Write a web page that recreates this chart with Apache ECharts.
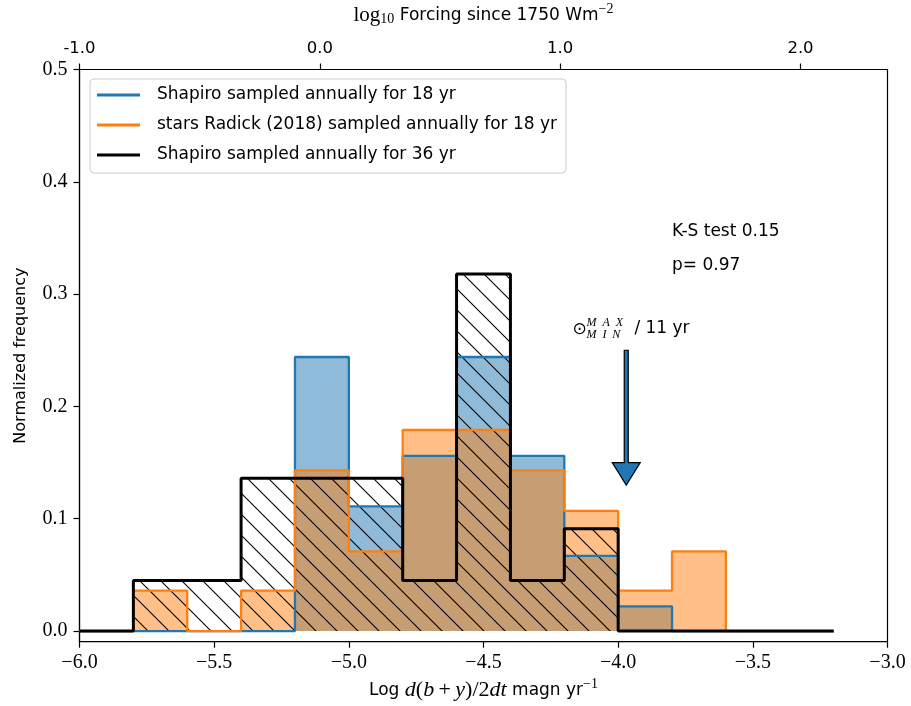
<!DOCTYPE html>
<html>
<head>
<meta charset="utf-8">
<script src="https://cdn.jsdelivr.net/npm/echarts@6/dist/echarts.min.js"></script>
<style>
html,body{margin:0;padding:0;background:#fff;}
#c{width:911px;height:706px;}
</style>
</head>
<body>
<div id="c"></div>
<script>
// ---- data ----
const binEdges = [-6.0,-5.8,-5.6,-5.4,-5.2,-5.0,-4.8,-4.6,-4.4,-4.2,-4.0,-3.8,-3.6,-3.4,-3.2];
const shapiro18 = [0, 0, 0, 0, 0.244, 0.111, 0.156, 0.244, 0.156, 0.067, 0.022, 0, 0, 0];
const radick18  = [0, 0.036, 0, 0.036, 0.143, 0.071, 0.179, 0.179, 0.143, 0.107, 0.036, 0.071, 0, 0];
const shapiro36 = [0, 0.045, 0.045, 0.136, 0.136, 0.136, 0.045, 0.318, 0.045, 0.091, 0, 0, 0, 0];
const seriesNames = [
  'Shapiro sampled annually for 18 yr',
  'stars Radick (2018) sampled annually for 18 yr',
  'Shapiro sampled annually for 36 yr'
];
const xTicks = [-6.0,-5.5,-5.0,-4.5,-4.0,-3.5,-3.0];
const yTicks = [0.0,0.1,0.2,0.3,0.4,0.5];
const topTicks = [-1.0,0.0,1.0,2.0];
const ksText = 'K-S test 0.15';
const pText = 'p= 0.97';
const ksPos = [-3.8, 0.35];
const pPos = [-3.8, 0.32];
const arrowStart = [-3.97, 0.25];
const arrowEnd = [-3.97, 0.13];
const arrowHeadLen = 0.02;
const sunLabelPos = [-4.17, 0.2636];

// ---- helpers ----
function stepData(vals){
  const d = vals.map((v,i)=>[binEdges[i], v]);
  d.push([binEdges[binEdges.length-1], vals[vals.length-1]]);
  return d;
}
function makeHatch(){
  const s = 21;
  const cv = document.createElement('canvas');
  cv.width = s; cv.height = s;
  const ctx = cv.getContext('2d');
  ctx.strokeStyle = '#000';
  ctx.lineWidth = 1.1;
  ctx.beginPath();
  for (const k of [-s, 0, s]) {
    ctx.moveTo(k - 1, -1);
    ctx.lineTo(k + s + 1, s + 1);
  }
  ctx.stroke();
  return cv;
}
const SANS = '"DejaVu Sans", sans-serif';
const SERIF = '"Liberation Serif", "DejaVu Serif", serif';
const FS = 17;
const fmtMinus = v => (v < 0 ? '\u2212' : '') + Math.abs(v).toFixed(1);

const chart = echarts.init(document.getElementById('c'), null, {renderer:'canvas'});
const hatch = makeHatch();

const option = {
  animation: false,
  backgroundColor: '#fff',
  grid: {left: 79.5, right: 23.5, top: 69.5, bottom: 64.3, containLabel: false, outerBoundsMode: 'none',
         show: true, borderColor: '#000', borderWidth: 1.2, backgroundColor: 'transparent'},
  legend: {
    orient: 'vertical', left: 90, top: 79,
    itemWidth: 43, itemHeight: 3, itemGap: 10,
    padding: [6, 9, 8, 7],
    backgroundColor: 'rgba(255,255,255,0.8)',
    borderColor: '#cccccc', borderWidth: 1, borderRadius: 4,
    textStyle: {fontFamily: SANS, fontSize: FS, color: '#000', lineHeight: 20, padding: [0,0,0,12]},
    selectedMode: false,
    data: [
      {name: seriesNames[0], icon: 'rect', itemStyle: {color: '#1f77b4'}},
      {name: seriesNames[1], icon: 'rect', itemStyle: {color: '#ff7f0e'}},
      {name: seriesNames[2], icon: 'rect', itemStyle: {color: '#000000'}}
    ]
  },
  xAxis: [
    {
      type: 'value', position: 'bottom', min: -6, max: -3,
      axisLine: {show: true, onZero: false, lineStyle: {color: '#000', width: 1.2}},
      axisTick: {show: true, length: 6, lineStyle: {color: '#000', width: 1.2}, customValues: xTicks},
      axisLabel: {customValues: xTicks, formatter: fmtMinus, fontFamily: SERIF, fontSize: 20, color: '#000', margin: 11},
      splitLine: {show: false},
      name: '{s|Log }{i|d}{r|(}{i|b}{r|\u2009+\u2009}{i|y}{r|)/2}{i|dt}{s| magn yr}{sup|\u22121}',
      nameLocation: 'middle', nameGap: 35,
      nameTextStyle: {
        rich: {
          s: {fontFamily: SANS, fontSize: FS, color: '#000'},
          i: {fontFamily: SERIF, fontStyle: 'italic', fontSize: 22, color: '#000'},
          r: {fontFamily: SERIF, fontSize: 22, color: '#000'},
          sup: {fontFamily: SERIF, fontSize: 14, color: '#000', padding: [0,0,12,0]}
        }
      }
    },
    {
      type: 'value', position: 'top', min: -1, max: 2.362,
      axisLine: {show: true, onZero: false, lineStyle: {color: '#000', width: 1.2}},
      axisTick: {show: true, length: 6, lineStyle: {color: '#000', width: 1.2}, customValues: topTicks},
      axisLabel: {customValues: topTicks, formatter: v => v.toFixed(1), fontFamily: SANS, fontSize: 16.5, color: '#000', margin: 12},
      splitLine: {show: false},
      name: '{r|log}{sub|10}{s| Forcing since 1750 Wm}{sup|\u22122}',
      nameLocation: 'middle', nameGap: 41,
      nameTextStyle: {
        rich: {
          s: {fontFamily: SANS, fontSize: FS, color: '#000'},
          r: {fontFamily: SERIF, fontSize: 21, color: '#000'},
          sub: {fontFamily: SERIF, fontSize: 14, color: '#000', padding: [8,0,0,0]},
          sup: {fontFamily: SERIF, fontSize: 14, color: '#000', padding: [0,0,12,0]}
        }
      }
    }
  ],
  yAxis: [
    {
      type: 'value', min: -0.0095, max: 0.5,
      axisLine: {show: true, onZero: false, lineStyle: {color: '#000', width: 1.2}},
      axisTick: {show: true, length: 6, lineStyle: {color: '#000', width: 1.2}, customValues: yTicks},
      axisLabel: {customValues: yTicks, formatter: v => v.toFixed(1), fontFamily: SERIF, fontSize: 20, color: '#000', margin: 12},
      splitLine: {show: false},
      name: 'Normalized frequency', nameLocation: 'middle', nameGap: 51,
      nameTextStyle: {fontFamily: SANS, fontSize: 16, color: '#000'}
    }
  ],
  series: [
    {
      name: seriesNames[0], type: 'line', step: 'end', data: stepData(shapiro18),
      xAxisIndex: 0, yAxisIndex: 0, symbol: 'none', showSymbol: false, silent: true,
      color: '#1f77b4',
      lineStyle: {color: '#1f77b4', width: 2.3},
      areaStyle: {color: 'rgba(31,119,180,0.5)', opacity: 1}
    },
    {
      name: seriesNames[1], type: 'line', step: 'end', data: stepData(radick18),
      xAxisIndex: 0, yAxisIndex: 0, symbol: 'none', showSymbol: false, silent: true,
      color: '#ff7f0e',
      lineStyle: {color: '#ff7f0e', width: 2.3},
      areaStyle: {color: 'rgba(255,127,14,0.5)', opacity: 1}
    },
    {
      name: seriesNames[2], type: 'line', step: 'end', data: stepData(shapiro36),
      xAxisIndex: 0, yAxisIndex: 0, symbol: 'none', showSymbol: false, silent: true,
      color: '#000000',
      lineStyle: {color: '#000000', width: 3},
      areaStyle: {color: {image: hatch, repeat: 'repeat'}, opacity: 1}
    }
  ]
};
chart.setOption(option);

// ---- annotations (data-anchored) ----
function px(p){ return chart.convertToPixel({xAxisIndex: 0, yAxisIndex: 0}, p); }
const ks = px(ksPos), pp = px(pPos);
const a0 = px(arrowStart), a1 = px(arrowEnd), ab = px([arrowEnd[0], arrowEnd[1] + arrowHeadLen]);
const sl = px(sunLabelPos);
const ax = a0[0], hw = 2, hh = 14;
chart.setOption({
  graphic: [
    {type: 'text', x: ks[0], y: ks[1] - 6, style: {text: ksText, fontFamily: SANS, fontSize: FS, fill: '#000', align: 'left', verticalAlign: 'middle'}},
    {type: 'text', x: pp[0], y: pp[1] - 6, style: {text: pText, fontFamily: SANS, fontSize: FS, fill: '#000', align: 'left', verticalAlign: 'middle'}},
    {type: 'polygon', shape: {points: [
        [ax - hw, a0[1]], [ax + hw, a0[1]], [ax + hw, ab[1]], [ax + hh, ab[1]],
        [ax, a1[1]], [ax - hh, ab[1]], [ax - hw, ab[1]]
      ]}, style: {fill: '#1f77b4', stroke: '#000', lineWidth: 1.2}},
    {type: 'text', x: sl[0], y: sl[1] - 5, style: {text: '\u2299', fontFamily: '"DejaVu Sans", sans-serif', fontSize: 17, fill: '#000', align: 'left', verticalAlign: 'middle'}},
    {type: 'text', x: sl[0] + 14, y: sl[1] - 12, style: {text: 'M\u2002A\u2002X', fontFamily: SERIF, fontStyle: 'italic', fontSize: 12, fill: '#000', align: 'left', verticalAlign: 'middle'}},
    {type: 'text', x: sl[0] + 14, y: sl[1] + 0, style: {text: 'M\u2002I\u2002N', fontFamily: SERIF, fontStyle: 'italic', fontSize: 12, fill: '#000', align: 'left', verticalAlign: 'middle'}},
    {type: 'text', x: sl[0] + 62, y: sl[1] - 6, style: {text: '/ 11 yr', fontFamily: SANS, fontSize: FS, fill: '#000', align: 'left', verticalAlign: 'middle'}}
  ]
});
</script>
</body>
</html>
